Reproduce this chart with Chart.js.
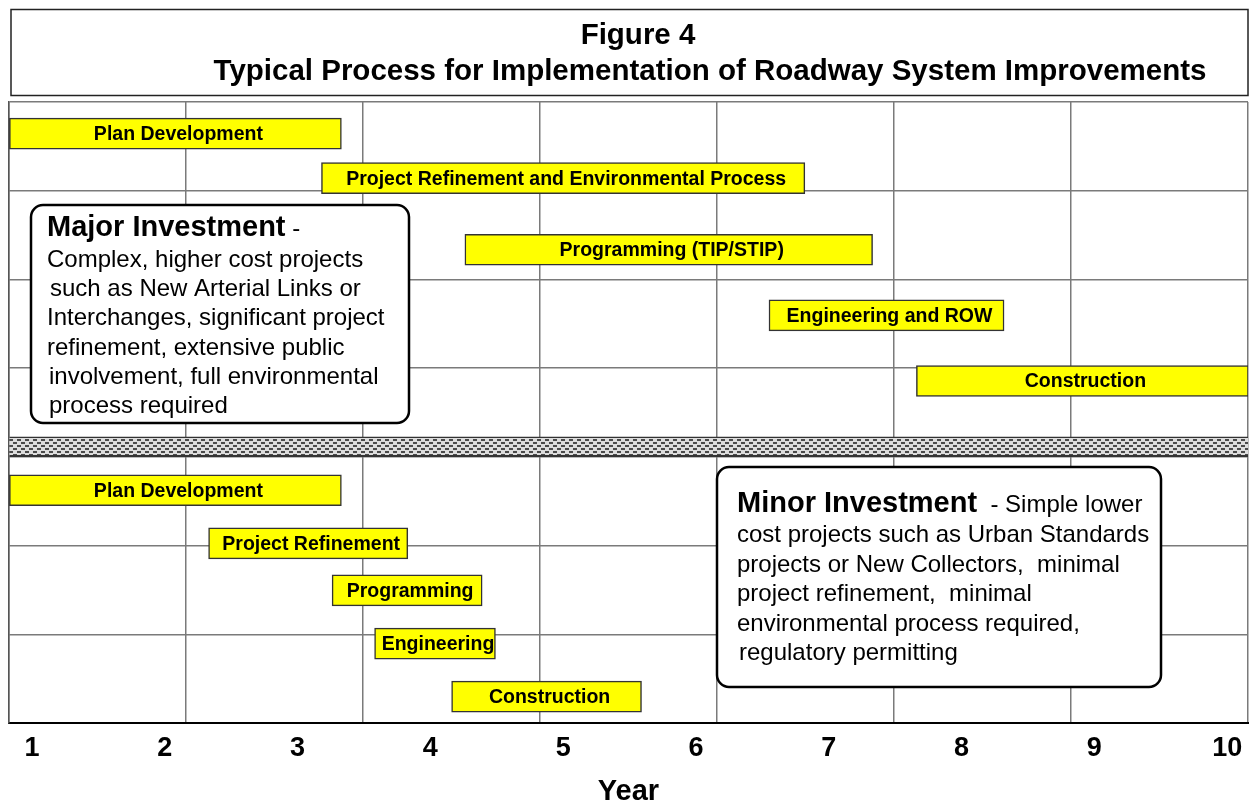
<!DOCTYPE html>
<html>
<head>
<meta charset="utf-8">
<title>Figure 4</title>
<script src="https://cdn.jsdelivr.net/npm/chart.js@4.4.1/dist/chart.umd.min.js"></script>
<style>
  html, body { margin: 0; background: #fff; }
  #wrap { width: 1249px; height: 805px; position: relative; }
</style>
</head>
<body>
<div id="wrap"><canvas id="chart"></canvas></div>
<script>
// values (years on the bottom axis, rows counted from the top)
const yearTicks = [1, 2, 3, 4, 5, 6, 7, 8, 9, 10];
const taskNames = [
  "Plan Development", "Project Refinement and Environmental Process", "Programming (TIP/STIP)",
  "Engineering and ROW", "Construction",
  "Plan Development", "Project Refinement", "Programming", "Engineering", "Construction"
];
const taskStart = [0.83, 3.18, 4.26, 6.55, 7.66, 0.83, 2.33, 3.26, 3.58, 4.16];
const taskEnd   = [3.33, 6.82, 7.33, 8.32, 10.16, 3.33, 3.83, 4.39, 4.49, 5.59];
const taskRow   = [0.356, 0.858, 1.665, 2.405, 3.144, 4.375, 4.973, 5.504, 6.103, 6.701];
const dividerRow = 3.885;

const FONT = "'Liberation Sans', Arial, Helvetica, sans-serif";

// dashed grey fill for the divider between major and minor
function makeHatch() {
  const c = document.createElement("canvas");
  c.width = 8; c.height = 6;
  const g = c.getContext("2d");
  g.fillStyle = "#dcdcdc";
  g.fillRect(0, 0, 8, 6);
  g.fillStyle = "#4a4a4a";
  g.fillRect(1, 1, 4, 2);
  g.fillRect(5, 4, 3, 2);
  g.fillRect(0, 4, 1, 2);
  return g.createPattern(c, "repeat");
}

const titleBox = {
  id: "titleBox",
  beforeDraw(chart) {
    const ctx = chart.ctx;
    ctx.save();
    ctx.fillStyle = "#fff";
    ctx.fillRect(0, 0, chart.width, chart.height);
    ctx.strokeStyle = "#222";
    ctx.lineWidth = 1.5;
    ctx.strokeRect(11, 9.5, 1237, 86);
    ctx.fillStyle = "#000";
    ctx.font = "bold 29.5px " + FONT;
    ctx.textAlign = "center";
    ctx.textBaseline = "middle";
    ctx.fillText("Figure 4", 638, 36);
    ctx.fillText("Typical Process for Implementation of Roadway System Improvements", 710, 72);
    ctx.restore();
  }
};

const barLabels = {
  id: "barLabels",
  afterDatasetsDraw(chart) {
    const ctx = chart.ctx;
    const meta = chart.getDatasetMeta(0);
    ctx.save();
    ctx.font = "bold 19.5px " + FONT;
    ctx.fillStyle = "#000";
    ctx.textAlign = "center";
    ctx.textBaseline = "middle";
    meta.data.forEach((el, i) => {
      ctx.fillText(taskNames[i], (el.x + el.base) / 2 + 3, el.y + 1);
    });
    ctx.restore();
  }
};

function roundBox(ctx, x, y, w, h, r) {
  ctx.beginPath();
  ctx.moveTo(x + r, y);
  ctx.arcTo(x + w, y, x + w, y + h, r);
  ctx.arcTo(x + w, y + h, x, y + h, r);
  ctx.arcTo(x, y + h, x, y, r);
  ctx.arcTo(x, y, x + w, y, r);
  ctx.closePath();
  ctx.fillStyle = "#fff";
  ctx.fill();
  ctx.lineWidth = 2.5;
  ctx.strokeStyle = "#000";
  ctx.stroke();
}

function note(ctx, n) {
  roundBox(ctx, n.x, n.y, n.w, n.h, 12);
  ctx.fillStyle = "#000";
  ctx.textAlign = "left";
  ctx.textBaseline = "alphabetic";
  ctx.font = "bold 29px " + FONT;
  ctx.fillText(n.head, n.hx, n.hy);
  const hw = ctx.measureText(n.head).width;
  ctx.font = "24px " + FONT;
  ctx.fillText(n.tail, n.hx + hw, n.hy);
  n.lines.forEach((ln, i) => {
    ctx.fillText(ln[0], n.hx + ln[1], n.ly + i * n.lh);
  });
}

const notes = {
  id: "notes",
  afterDatasetsDraw(chart) {
    const ctx = chart.ctx;
    ctx.save();
    note(ctx, {
      x: 31, y: 205, w: 378, h: 218, hx: 47, hy: 236, ly: 267, lh: 29.2,
      head: "Major Investment", tail: " -",
      lines: [
        ["Complex, higher cost projects", 0],
        ["such as New Arterial Links or", 3],
        ["Interchanges, significant project", 0],
        ["refinement, extensive public", 0],
        ["involvement, full environmental", 2],
        ["process required", 2]
      ]
    });
    note(ctx, {
      x: 717, y: 467, w: 444, h: 220, hx: 737, hy: 512, ly: 542, lh: 29.6,
      head: "Minor Investment", tail: "  - Simple lower",
      lines: [
        ["cost projects such as Urban Standards", 0],
        ["projects or New Collectors,  minimal", 0],
        ["project refinement,  minimal", 0],
        ["environmental process required,", 0],
        ["regulatory permitting", 2]
      ]
    });
    ctx.restore();
  }
};

const tasks = taskNames.map((_, i) => ({ x: [taskStart[i], taskEnd[i]], y: taskRow[i] }));

new Chart(document.getElementById("chart"), {
  type: "bar",
  data: {
    datasets: [
      {
        label: "Tasks",
        data: tasks,
        backgroundColor: "#ffff00",
        borderColor: "#333",
        borderWidth: 1.5,
        borderSkipped: false,
        barThickness: 31,
        grouped: false,
        xAxisID: "x"
      },
      {
        label: "Divider",
        data: [{ x: [0.83, 10.16], y: dividerRow }],
        backgroundColor: makeHatch(),
        borderColor: "#333",
        borderWidth: { top: 1.5, bottom: 2, left: 0, right: 0 },
        borderSkipped: false,
        barThickness: 20,
        grouped: false,
        xAxisID: "x"
      }
    ]
  },
  options: {
    indexAxis: "y",
    responsive: true,
    maintainAspectRatio: false,
    animation: false,
    layout: { padding: { top: 102, left: 9, right: 1, bottom: 0 } },
    scales: {
      x: {
        type: "linear",
        position: "bottom",
        min: 0.827,
        max: 10.157,
        afterBuildTicks: (s) => { s.ticks = yearTicks.map(v => ({ value: v })); },
        ticks: {
          padding: 2,
          color: "#000",
          font: { family: FONT, size: 27, weight: "bold", lineHeight: 1.1 },
          maxRotation: 0,
          autoSkip: false
        },
        grid: { display: false },
        border: { display: true, color: "#000", width: 2 },
        title: {
          display: true,
          text: "Year",
          color: "#000",
          font: { family: FONT, size: 29, weight: "bold", lineHeight: 0.9 },
          padding: { top: 14, bottom: 0 }
        }
      },
      xg: {
        type: "linear",
        position: "top",
        min: 0,
        max: 7,
        offset: false,
        ticks: { display: false, stepSize: 1 },
        grid: { color: "#7a7a7a", lineWidth: 1.5, drawTicks: false, offset: false },
        border: { display: false }
      },
      y: {
        type: "linear",
        min: 0,
        max: 7,
        reverse: true,
        offset: false,
        ticks: { display: false, stepSize: 1 },
        grid: { color: "#7a7a7a", lineWidth: 1.5, drawTicks: false, offset: false },
        border: { display: true, color: "#555", width: 1.5 }
      }
    },
    plugins: {
      legend: { display: false },
      tooltip: { enabled: false }
    }
  },
  plugins: [titleBox, barLabels, notes]
});
</script>
</body>
</html>
